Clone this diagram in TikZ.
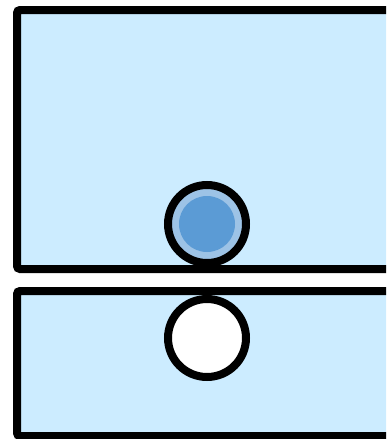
\documentclass[tikz,border=0pt]{standalone}
\usepackage{xcolor}
\definecolor{panel}{RGB}{204,236,255}
\definecolor{ballring}{RGB}{157,195,230}
\definecolor{ballcore}{RGB}{91,155,213}
\usepackage{tikz}
\tikzset{
  slab/.style={draw=black,line width=8pt,fill=panel,rounded corners=3pt},
  ball/.style={circle,draw=black,line width=8pt,minimum size=78pt,inner sep=0pt},
  core/.style={circle,fill=ballcore,minimum size=56pt,inner sep=0pt},
}

\begin{document}
\begin{tikzpicture}[x=1pt,y=-1pt]
\useasboundingbox (0,0) rectangle (386,439);
\clip (0,0) rectangle (386,439);
% upper and lower slabs
\draw[slab] (17,10) rectangle (410,269);
\draw[slab] (17,291) rectangle (410,436);
% balls
\node[ball,fill=ballring] (upper) at (207,224) {};
\node[core] (uppercore) at (upper.center) {};
\node[ball,fill=white] (lower) at (207,338) {};
\end{tikzpicture}
\end{document}
